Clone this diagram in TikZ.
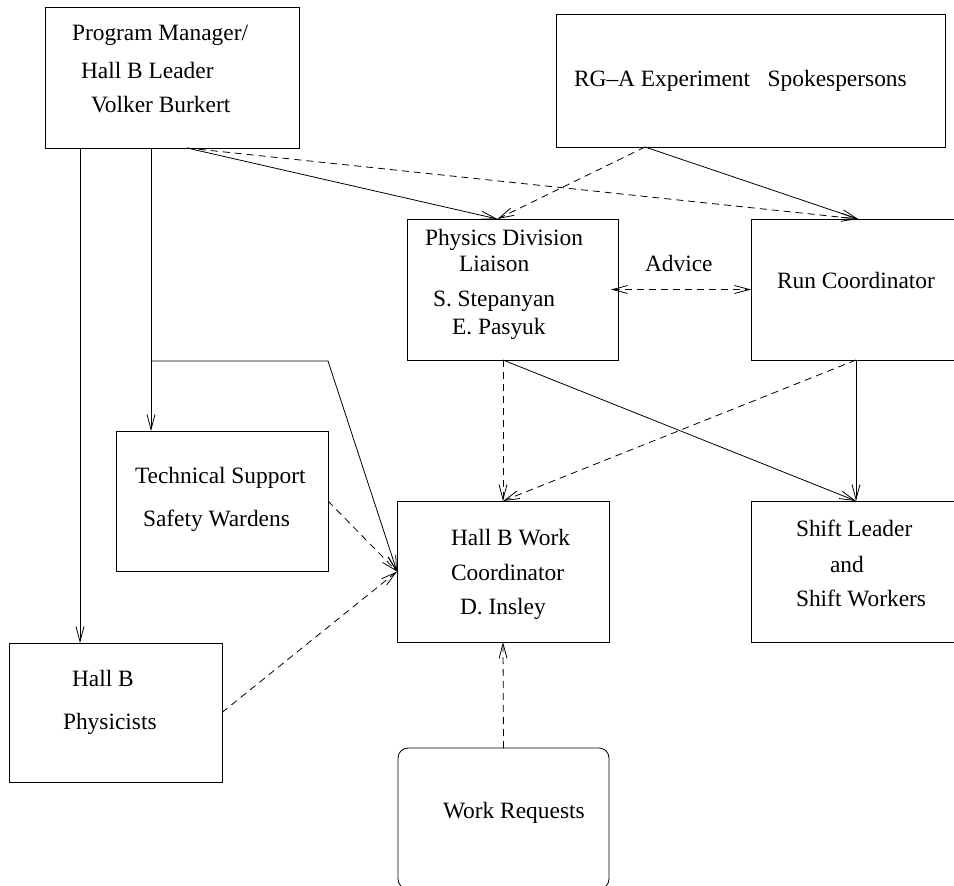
\documentclass[tikz,border=0pt]{standalone}
\usepackage{fontspec}
\setmainfont{Liberation Serif}
\usetikzlibrary{arrows.meta}
\begin{document}
\begin{tikzpicture}[x=1pt, y=-1pt, line width=0.8pt, font=\fontsize{23.4pt}{28pt}\selectfont,
	barb/.tip={Straight Barb[length=15pt, width=8pt]},
	box/.style={draw, anchor=north west, inner sep=0pt, outer sep=0pt},
	txt/.style={anchor=base west, inner sep=0pt, outer sep=0pt},
	link/.style={-barb},
	weak/.style={-barb, dash pattern=on 7pt off 5pt}]
	\useasboundingbox (0,0) rectangle (954,886);

	% Boxes
	\node[box, minimum width=254pt, minimum height=141pt] (pm) at (45,7) {};
	\node[box, minimum width=389pt, minimum height=133pt] (rga) at (556,14) {};
	\node[box, minimum width=211pt, minimum height=141pt] (pdl) at (407,219) {};
	\node[box, minimum width=213pt, minimum height=141pt] (runc) at (751,219) {};
	\node[box, minimum width=212pt, minimum height=140pt] (tss) at (116,431) {};
	\node[box, minimum width=212pt, minimum height=141pt] (hbwc) at (397,501) {};
	\node[box, minimum width=213pt, minimum height=141pt] (shift) at (751,501) {};
	\node[box, minimum width=213pt, minimum height=139pt] (phys) at (9,643) {};
	\node[box, rounded corners=10pt, minimum width=211pt, minimum height=141pt] (wreq) at (398,748) {};

	% Texts
	\node[txt] (pmT1) at (72,41) {Program Manager/};
	\node[txt] (pmT2) at (81,78) {Hall B Leader};
	\node[txt] (pmT3) at (91,112) {Volker Burkert};
	\node[txt] (rgaT) at (574,86) {RG--A Experiment\ \ \ Spokespersons};
	\node[txt] (pdlT1) at (425,245) {Physics Division};
	\node[txt] (pdlT2) at (459,271) {Liaison};
	\node[txt] (pdlT3) at (433,306) {S. Stepanyan};
	\node[txt] (pdlT4) at (452,334) {E. Pasyuk};
	\node[txt] (advT) at (645,271) {Advice};
	\node[txt] (runcT) at (777,288) {Run Coordinator};
	\node[txt] (tssT1) at (135,483) {Technical Support};
	\node[txt] (tssT2) at (143,526) {Safety Wardens};
	\node[txt] (hbwcT1) at (451,545) {Hall B Work};
	\node[txt] (hbwcT2) at (451,580) {Coordinator};
	\node[txt] (hbwcT3) at (460,614) {D. Insley};
	\node[txt] (shiftT1) at (796,536) {Shift Leader};
	\node[txt] (shiftT2) at (830,572) {and};
	\node[txt] (shiftT3) at (796,606) {Shift Workers};
	\node[txt] (physT1) at (72,686) {Hall B};
	\node[txt] (physT2) at (63,729) {Physicists};
	\node[txt] (wreqT) at (443,818) {Work Requests};

	% Connector ends
	\coordinate (pmA) at ([xshift=35pt]pm.south west);
	\coordinate (pmB) at ([xshift=106pt]pm.south west);
	\coordinate (pmC) at ([xshift=142pt]pm.south west);
	\coordinate (rgaFoot) at ([xshift=89pt]rga.south west);
	\coordinate (runTop) at ([xshift=107pt]runc.north west);
	\coordinate (runFoot) at ([xshift=105pt]runc.south west);
	\coordinate (pdlTop) at ([xshift=-15pt]pdl.north);
	\coordinate (pdlFoot) at (hbwc.north |- pdl.south);
	\coordinate (fork) at (pmB |- 0,361);
	\coordinate (bend) at (tss.east |- fork);

	% Solid lines
	\draw[link] (pmA) -- (pmA |- phys.north);
	\draw[link] (pmB) -- (pmB |- tss.north);
	\draw[link] (fork) -- (bend) -- (hbwc.west);
	\draw[link] (pmC) -- (pdlTop);
	\draw[link] (rgaFoot) -- (runTop);
	\draw[link] (pdlFoot) -- (runFoot |- shift.north);
	\draw[link] (runFoot) -- (runFoot |- shift.north);

	% Dashed lines
	\draw[weak] (pmC) -- (runTop);
	\draw[weak] (rgaFoot) -- (pdlTop);
	\draw[weak, barb-barb] ([xshift=-7pt]pdl.east) -- (runc.west);
	\draw[weak] (pdlFoot) -- (hbwc.north);
	\draw[weak] (runFoot) -- (hbwc.north);
	\draw[weak] (tss.east) -- (hbwc.west);
	\draw[weak] (phys.east) -- (hbwc.west);
	\draw[weak] (wreq.north) -- (hbwc.south);
\end{tikzpicture}
\end{document}
